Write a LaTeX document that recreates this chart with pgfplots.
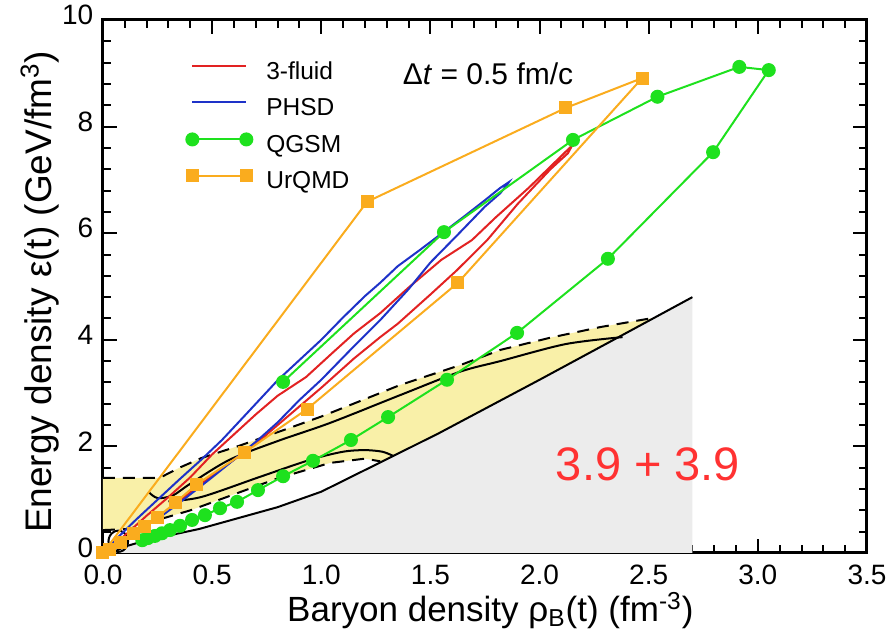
\documentclass[border=0pt]{standalone}
\usepackage{fontspec}
\setmainfont{Liberation Sans}
\usepackage{pgfplots}
\pgfplotsset{compat=1.18}
\definecolor{cRed}{RGB}{226,34,34}
\definecolor{cBlue}{RGB}{30,50,200}
\definecolor{cGreen}{RGB}{30,225,30}
\definecolor{cOrange}{RGB}{250,172,30}
\definecolor{cYellow}{RGB}{249,240,168}
\definecolor{cGray}{RGB}{236,236,236}
\definecolor{cText}{RGB}{255,50,50}
\begin{document}
\begin{tikzpicture}
\path[use as bounding box] (-51.5pt,-44.5pt) rectangle (393.5pt,276.5pt);
\begin{axis}[
  at={(0pt,0pt)}, anchor=south west,
  scale only axis, width=382pt, height=266.5pt,
  xmin=0, xmax=3.5, ymin=0, ymax=10,
  xtick={0,0.5,1,1.5,2,2.5,3,3.5}, ytick={0,2,4,6,8,10},
  minor x tick num=4, minor y tick num=4,
  tick align=inside,
  major tick length=7pt, minor tick length=4pt,
  every tick/.style={line width=1pt, black},
  axis line style={line width=1.5pt},
  /pgf/number format/assume math mode=true,
  xticklabel style={/pgf/number format/.cd, fixed, fixed zerofill, precision=1},
  yticklabel style={yshift=2.5pt},
  ticklabel style={font=\fontsize{14}{14}\selectfont, inner sep=1pt},
  xticklabel shift=5pt, yticklabel shift=3.7pt,
  xlabel={Baryon density ρ\textsubscript{B}(t) (fm\textsuperscript{-3})},
  ylabel={Energy density ε(t) (GeV/fm\textsuperscript{3})},
  xlabel style={at={(axis description cs:0.507,-0.129)}, anchor=base, font=\fontsize{17.5}{17.5}\selectfont},
  ylabel style={at={(axis description cs:-0.068,0.49)}, anchor=base, font=\fontsize{18.5}{18.5}\selectfont},
  legend cell align=left,
  legend style={at={(axis cs:0.38,9.23)}, anchor=north west, draw=none, fill=none,
    inner sep=0pt, row sep=6pt, font=\fontsize{12.25}{12.25}\selectfont,
    nodes={inner sep=0pt, text height=9pt, text depth=3pt},
    /tikz/every odd column/.append style={column sep=7pt}},
  legend image code/.code={\draw[#1, mark repeat=2, mark phase=1] plot coordinates {(0pt,3.5pt) (13.5pt,3.5pt) (27pt,3.5pt)};},
]
% gray region
\addplot[fill=cGray, draw=none, forget plot] coordinates {
 (0,0) (0.05,0.02) (0.1,0.12) (0.2,0.24) (0.44,0.45) (0.8,0.86) (1.0,1.15)
 (1.31,1.78) (1.54,2.25) (2.0,3.25) (2.38,4.09) (2.7,4.8)} \closedcycle;
% yellow region
\addplot[fill=cYellow, draw=none, forget plot] coordinates {
 (0,1.41) (0.26,1.41) (0.35,1.6) (0.45,1.78) (0.63,2.02) (0.83,2.31) (1.0,2.56)
 (1.19,2.87) (1.36,3.15) (1.64,3.53) (1.82,3.81) (2.05,4.04) (2.28,4.24) (2.52,4.41)
 (2.38,4.09) (2.0,3.25) (1.54,2.25) (1.33,1.82) (1.27,1.72) (1.2,1.77) (1.04,1.69)
 (0.8,1.4) (0.6,1.1) (0.4,0.8) (0.25,0.62) (0.12,0.45) (0,0.43)} -- cycle;
% black boundary lines
\addplot[black, line width=1pt, forget plot] coordinates {
 (0.05,0.02) (0.1,0.12) (0.2,0.24) (0.44,0.45) (0.8,0.86) (1.0,1.15)
 (1.31,1.78) (1.54,2.25) (2.0,3.25) (2.38,4.09) (2.7,4.8)};
\addplot[black, line width=1pt, dash pattern=on 6pt off 4pt, forget plot] coordinates {
 (0,1.41) (0.26,1.41) (0.35,1.6) (0.45,1.78) (0.63,2.02) (0.83,2.31) (1.0,2.56)
 (1.19,2.87) (1.36,3.15) (1.64,3.53) (1.82,3.81) (2.05,4.04) (2.28,4.24) (2.52,4.41)};
\addplot[black, line width=1pt, smooth, forget plot] coordinates {
 (0.21,1.14) (0.25,1.03) (0.32,1.08) (0.4,1.3) (0.58,1.75) (0.8,2.1) (1.04,2.44)
 (1.36,2.96) (1.635,3.4) (1.82,3.6) (2.12,3.92) (2.38,4.05)};
\addplot[black, line width=1pt, smooth, forget plot] coordinates {
 (0.3,0.97) (0.45,1.05) (0.72,1.43) (0.95,1.75) (1.1,1.9) (1.2,1.93) (1.28,1.9) (1.33,1.82)};
\addplot[black, line width=1pt, dash pattern=on 6pt off 4pt, forget plot] coordinates {
 (0,0.43) (0.12,0.45) (0.25,0.62) (0.4,0.8) (0.6,1.1) (0.8,1.4) (1.04,1.69) (1.2,1.77) (1.27,1.72)};
\addplot[black, line width=1pt, smooth cycle, forget plot] coordinates {
 (0.115,0.22) (0.109,0.32) (0.092,0.393) (0.07,0.42) (0.048,0.393) (0.031,0.32)
 (0.025,0.22) (0.031,0.12) (0.048,0.047) (0.07,0.02) (0.092,0.047) (0.109,0.12)};
% 3-fluid
\addplot[cRed, line width=1pt] coordinates {
 (0,0) (0.05,0.15) (0.1,0.33) (0.2,0.7) (0.3,1.05) (0.4,1.42) (0.5,1.85) (0.58,2.15)
 (0.7,2.6) (0.8,2.95) (0.93,3.3) (1.05,3.75) (1.15,4.12) (1.27,4.5) (1.4,4.98)
 (1.55,5.5) (1.69,5.87) (1.8,6.3) (1.95,6.85) (2.05,7.25) (2.15,7.65)
 (2.13,7.5) (2.05,7.2) (1.9,6.55) (1.76,5.87) (1.62,5.3) (1.5,4.85) (1.35,4.3)
 (1.27,4.05) (1.15,3.65) (1.0,3.1) (0.9,2.75) (0.8,2.4) (0.7,2.05) (0.6,1.75)
 (0.5,1.45) (0.42,1.2) (0.35,0.98) (0.3,0.82)};
\addlegendentry{3-fluid}
% PHSD
\addplot[cBlue, line width=1pt] coordinates {
 (0,0) (0.03,0.12) (0.07,0.30) (0.15,0.62) (0.25,1.0) (0.35,1.38) (0.45,1.75)
 (0.545,2.12) (0.65,2.58) (0.75,3.02) (0.80,3.24) (0.9,3.62) (1.0,4.0) (1.1,4.42)
 (1.2,4.82) (1.27,5.07) (1.35,5.38) (1.45,5.68) (1.56,6.02) (1.65,6.3) (1.75,6.62)
 (1.82,6.85) (1.86,6.96) (1.85,6.9) (1.82,6.75) (1.75,6.5) (1.62,5.95) (1.5,5.45)
 (1.4,4.95) (1.27,4.37) (1.15,3.88) (1.0,3.25) (0.9,2.87) (0.8,2.45) (0.71,2.12)
 (0.6,1.75) (0.5,1.42) (0.4,1.1) (0.33,0.88) (0.27,0.7)};
\addlegendentry{PHSD}
% QGSM
\addplot[cGreen, line width=1pt, mark=*, mark size=3pt] coordinates {
 (0.825,3.21) (1.562,6.02) (2.153,7.75) (2.54,8.56) (2.915,9.12) (3.05,9.06)
 (2.795,7.52) (2.313,5.52) (1.897,4.13) (1.576,3.25) (1.306,2.55) (1.136,2.12)
 (0.962,1.73) (0.825,1.44) (0.71,1.18) (0.614,0.96) (0.536,0.84) (0.467,0.71)
 (0.408,0.62) (0.353,0.51) (0.307,0.43) (0.27,0.37) (0.238,0.32) (0.206,0.28) (0.18,0.24)};
\addlegendentry{QGSM}
% UrQMD
\addplot[cOrange, line width=1pt, mark=square*, mark size=2.75pt] coordinates {
 (0,0) (1.21,6.59) (2.12,8.35) (2.47,8.91) (1.626,5.07) (0.935,2.70) (0.646,1.88)
 (0.43,1.29) (0.33,0.94) (0.25,0.67) (0.19,0.50) (0.14,0.37) (0.08,0.2) (0.03,0.07)};
\addlegendentry{UrQMD}
\node[font=\fontsize{15}{15}\selectfont, inner sep=0pt] at (axis cs:1.764,9.0) {Δ\textit{t} = 0.5 fm/c};
\node[font=\fontsize{23.5}{23.5}\selectfont, text=cText, inner sep=0pt] at (axis cs:2.497,1.67) {3.9 + 3.9};
\end{axis}
\end{tikzpicture}
\end{document}
